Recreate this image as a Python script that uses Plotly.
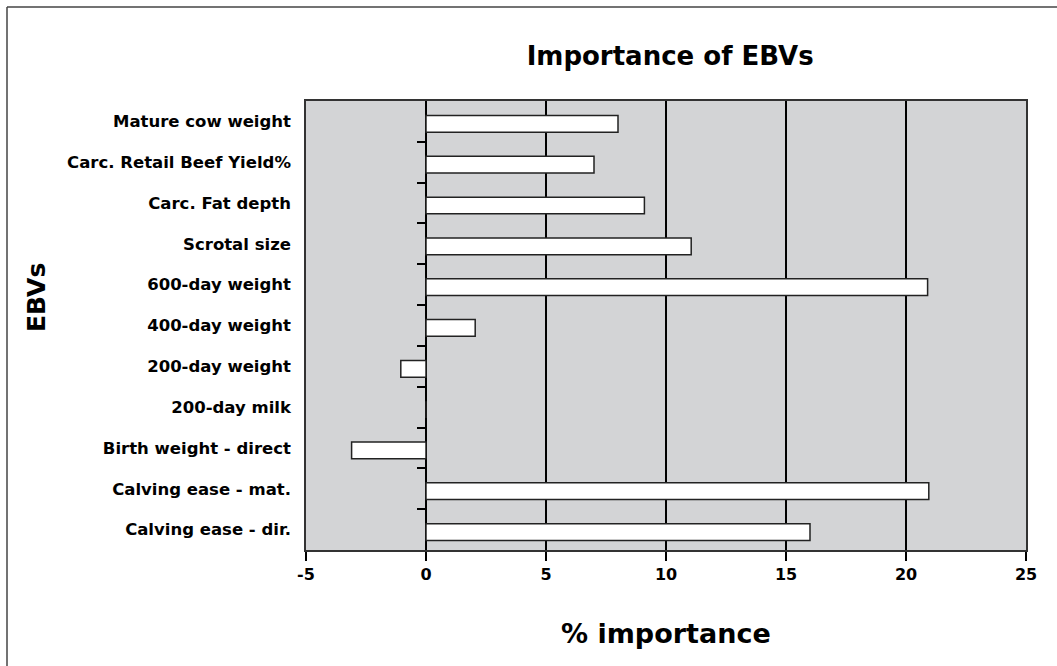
import plotly.graph_objects as go

# EBV traits, listed top to bottom
traits = [
    "Mature cow weight",
    "Carc. Retail Beef Yield%",
    "Carc. Fat depth",
    "Scrotal size",
    "600-day weight",
    "400-day weight",
    "200-day weight",
    "200-day milk",
    "Birth weight - direct",
    "Calving ease - mat.",
    "Calving ease - dir.",
]
importance = [8.0, 7.0, 9.1, 11.05, 20.9, 2.05, -1.05, 0.0, -3.1, 20.95, 16.0]
x_ticks = [-5, 0, 5, 10, 15, 20, 25]

FONT = "DejaVu Sans"
n = len(traits)
boundaries = [i + 0.5 for i in range(n - 1)]

fig = go.Figure()
fig.add_trace(go.Bar(
    x=importance,
    y=traits,
    orientation="h",
    width=0.41,
    offset=-0.145,
    marker=dict(color="white", line=dict(color="#222222", width=1.5)),
    hoverinfo="x+y",
    showlegend=False,
))
# empty trace so the category-boundary tick axis is drawn
fig.add_trace(go.Scatter(x=[], y=[], yaxis="y2", showlegend=False))

# frame edges around the chart (left and top), in paper units
fx0 = (7 - 306) / 720
fx1 = (1057 - 306) / 720
fy0 = (550 - 666) / 449
fy1 = (550 - 7) / 449
frame = dict(color="#444444", width=1.5)

fig.update_layout(
    width=1057,
    height=666,
    margin=dict(l=306, r=31, t=101, b=116),
    paper_bgcolor="white",
    plot_bgcolor="#d3d4d6",
    font=dict(family=FONT, color="black", weight="bold"),
    title=dict(
        text="Importance of EBVs",
        font=dict(family=FONT, size=26, color="black", weight="bold"),
        x=0.634, xanchor="center", xref="container",
        y=1 - 56 / 666, yanchor="middle", yref="container",
    ),
    xaxis=dict(
        range=[-5, 25],
        tickvals=x_ticks,
        ticktext=[str(v) for v in x_ticks],
        tickfont=dict(family=FONT, size=16, color="black", weight="bold"),
        showgrid=True, gridcolor="black", gridwidth=1.5,
        zeroline=True, zerolinecolor="black", zerolinewidth=1.5,
        showline=True, mirror=True, linecolor="#333333", linewidth=1.5,
        ticks="outside", ticklen=9, tickwidth=1.5, tickcolor="black",
    ),
    yaxis=dict(
        type="category",
        categoryorder="array",
        categoryarray=traits,
        range=[n - 0.5, -0.5],
        tickfont=dict(family=FONT, size=16.5, color="black", weight="bold"),
        showgrid=False, zeroline=False,
        showline=True, mirror=True, linecolor="#333333", linewidth=1.5,
        ticks="outside", ticklen=10, tickcolor="rgba(0,0,0,0)",
    ),
    yaxis2=dict(
        overlaying="y",
        anchor="free",
        position=(0 - x_ticks[0]) / (x_ticks[-1] - x_ticks[0]),
        side="left",
        range=[n - 0.5, -0.5],
        tickvals=boundaries,
        showticklabels=False,
        showgrid=False, zeroline=False, showline=False,
        ticks="outside", ticklen=9, tickwidth=1.5, tickcolor="black",
    ),
    annotations=[
        dict(
            text="% importance", showarrow=False,
            xref="paper", yref="paper",
            x=0.5, y=(550 - 633) / 449, xanchor="center", yanchor="middle",
            font=dict(family=FONT, size=27, color="black", weight="bold"),
        ),
        dict(
            text="EBVs", showarrow=False, textangle=-90,
            xref="paper", yref="paper",
            x=(36 - 306) / 720, y=(550 - 298) / 449,
            xanchor="center", yanchor="middle",
            font=dict(family=FONT, size=25, color="black", weight="bold"),
        ),
    ],
    shapes=[
        dict(type="line", xref="paper", yref="paper",
             x0=fx0, x1=fx0, y0=fy0, y1=fy1, line=frame, layer="below"),
        dict(type="line", xref="paper", yref="paper",
             x0=fx0, x1=fx1, y0=fy1, y1=fy1, line=frame, layer="below"),
    ],
)

fig.write_html("out.html")
